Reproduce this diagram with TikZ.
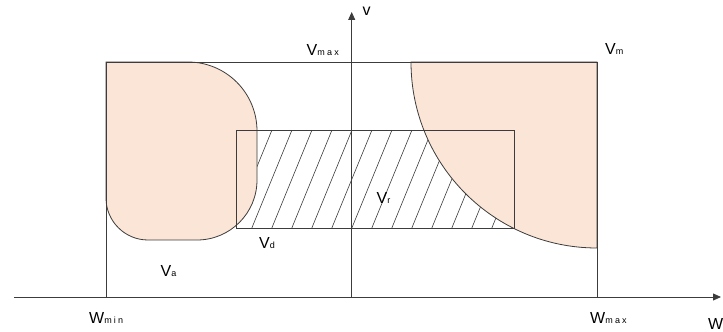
\documentclass[tikz,border=0pt]{standalone}
\usepackage{fontspec}
\setmainfont{Liberation Sans}
\usetikzlibrary{arrows.meta}
\definecolor{peach}{HTML}{FBE5D6}
\definecolor{linec}{HTML}{3C3C3C}
\newcommand\subtxt[1]{{\fontsize{9}{10}\selectfont #1}}
\tikzset{
  edge/.style={draw=linec, line width=0.8pt},
  blob/.style={fill=peach, draw=linec, line width=0.8pt},
  hatch/.style={draw=linec, line width=0.6pt},
  lab/.style={anchor=base west, inner sep=0pt, font=\fontsize{16}{18}\selectfont, text=black},
  axisarrow/.style={draw=linec, line width=0.8pt, -{Triangle[length=8pt,width=7pt]}}
}
\begin{document}
\begin{tikzpicture}[x=1pt,y=1pt]
\useasboundingbox (0,0) rectangle (723,332);
% hatch inside inner rectangle
\begin{scope}
  \clip (236.7,103.7) rectangle (514.3,201.3);
  \foreach \k in {-8,...,10} {
    \draw[hatch] ({351.7+20*\k-40},103.7) -- ({351.7+20*\k},201.3);
  }
\end{scope}
% left blob
\path[blob] (106,270) -- (188,270) arc[start angle=90,end angle=0,radius=69]
  -- (257,152) arc[start angle=0,end angle=-90,radius=60]
  -- (148,92) arc[start angle=270,end angle=180,radius=42] -- cycle;
% right blob
\path[blob] (411,270) -- (597,270) -- (597,84) arc[start angle=270,end angle=180,radius=186] -- cycle;
% inner rectangle
\coordinate (ia) at (236.7,103.7);
\coordinate (ib) at (514.3,201.3);
\draw[edge] (ia) rectangle (ib);
% outer rectangle
\coordinate (oa) at (106,35);
\coordinate (ob) at (597,270);
\draw[edge] (oa) rectangle (ob);
% axes
\coordinate (xs) at (14,35);
\coordinate (xe) at (721,35);
\coordinate (ys) at (351.7,35);
\coordinate (ye) at (351.7,320);
\draw[axisarrow] (xs) -- (xe);
\draw[axisarrow] (ys) -- (ye);
% labels
\node[lab] (lv) at (362.5,316) {v};
\node[lab] (lvmax) at (306.5,276.3) {V\subtxt{m\kern2.2pt a\kern2.2pt x}};
\node[lab] (lvm) at (605,277) {V\subtxt{m}};
\node[lab] (lwmin) at (89,8) {W\subtxt{m\kern2.2pt i\kern2.2pt n}};
\node[lab] (lwmax) at (590,8) {W\subtxt{m\kern2.2pt a\kern2.2pt x}};
\node[lab] (lw) at (708,2) {W};
\node[lab] (lva) at (160.5,55) {V\subtxt{a}};
\node[lab] (lvd) at (259,83) {V\subtxt{d}};
\node[lab] (lvr) at (376.5,128) {V\subtxt{r}};
\end{tikzpicture}
\end{document}
